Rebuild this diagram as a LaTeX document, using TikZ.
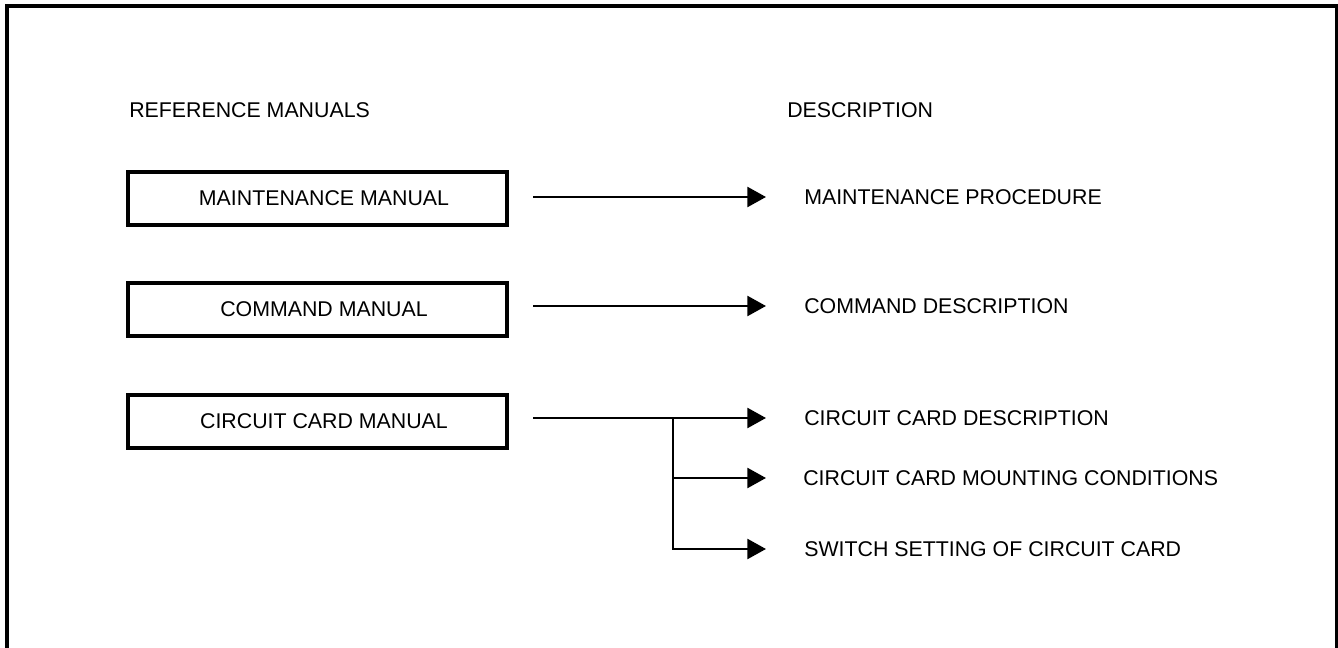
\documentclass[tikz,border=0pt]{standalone}
\usepackage{fontspec}
\setmainfont{Liberation Sans}
\usetikzlibrary{arrows.meta}
\begin{document}
\begin{tikzpicture}[x=0.75pt,y=-0.75pt,
  every node/.style={font=\fontsize{16pt}{19pt}\selectfont},
  manbox/.style={draw,line width=2.4pt,minimum width={379*0.75pt},minimum height={53*0.75pt},inner sep=0pt},
  lbl/.style={anchor=west,inner sep=0pt},
  hdr/.style={anchor=base west,inner sep=0pt},
  conn/.style={line width=1.8pt,-{Triangle[length=14pt,width=15pt]}}
]
\useasboundingbox (0,0) rectangle (1338,648);
% outer frame
\draw[line width=2.6pt] (7,648) -- (7,6) -- (1337,6) -- (1337,648);
% headers
\node[hdr] (hl) at (129,118) {REFERENCE MANUALS};
\node[hdr] (hr) at (787,118) {DESCRIPTION};
% manual boxes
\node[manbox] (mm) at (317.5,198.5) {\hspace*{9.75pt}MAINTENANCE MANUAL};
\node[manbox] (cm) at (317.5,309.5) {\hspace*{9.75pt}COMMAND MANUAL};
\node[manbox] (cc) at (317.5,421.5) {\hspace*{9.75pt}CIRCUIT CARD MANUAL};
% descriptions
\node[lbl] (mp) at (804,197) {MAINTENANCE PROCEDURE};
\node[lbl] (cd) at (804,306) {COMMAND DESCRIPTION};
\node[lbl] (ccd) at (804,418) {CIRCUIT CARD DESCRIPTION};
\node[lbl] (ccm) at (803,478) {CIRCUIT CARD MOUNTING CONDITIONS};
\node[lbl] (sw) at (804,549) {SWITCH SETTING OF CIRCUIT CARD};
% coordinates for connector ends
\coordinate (a1) at (533,197);
\coordinate (a2) at (533,306);
\coordinate (a3) at (533,418);
\coordinate (br) at (673,418);
% connectors
\draw[conn,shorten >=28.5pt] (a1) -- (mp.west);
\draw[conn,shorten >=28.5pt] (a2) -- (cd.west);
\draw[conn,shorten >=28.5pt] (a3) -- (ccd.west);
\draw[conn,shorten >=27.75pt] (br) |- (ccm.west);
\draw[conn,shorten >=28.5pt] (br) |- (sw.west);
\end{tikzpicture}
\end{document}
